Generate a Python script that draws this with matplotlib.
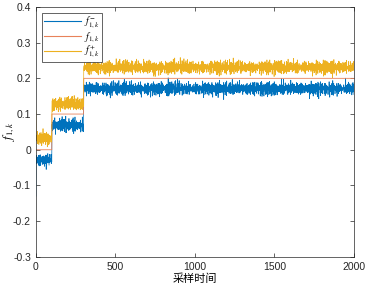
import numpy as np
import matplotlib.pyplot as plt

plt.rcParams['font.family'] = ['Liberation Sans', 'Noto Sans CJK SC']
plt.rcParams['mathtext.fontset'] = 'stix'

# step segments
seg_start = [0, 100, 300]
seg_end = [100, 300, 2000]
ref_level = [0.0, 0.1, 0.2]
low_level = [-0.028, 0.068, 0.171]
up_level = [0.032, 0.128, 0.231]
first_low = -0.13
first_up = 0.11

# hand typed jitter tables (coprime lengths so the pattern doesnt repeat visibly)
jit_a = [0.3, -0.8, 0.5, 0.1, -0.4, 0.9, -0.2, -0.6, 0.7, 0.0, -0.9, 0.4,
         0.2, -0.3, 0.8, -0.7, 0.1, 0.6, -0.5, -0.1, 0.9, -0.8, 0.3, 0.5,
         -0.2, -0.6, 0.0, 0.7, -0.4]
jit_b = [-0.5, 0.2, 0.7, -1.0, 0.1, 0.4, -0.3, 0.8, -0.6, -0.1, 0.5, 0.0,
         -0.7, 0.9, -0.2, 0.3, -0.8, 0.6, 0.1, -0.4, 0.2, -0.9, 0.7, -0.1,
         0.4, -0.5, 1.0, -0.3, 0.0, 0.6, -0.7]
jit_c = [0.0, 0.2, -0.1, 0.0, 0.9, -0.2, 0.1, 0.0, -1.0, 0.1, -0.1, 0.3,
         0.0, -0.2, 0.1, 0.0, 0.8, -0.1, 0.2, -0.9, 0.0, 0.1, -0.3]
jit_amp = 0.026

k = np.arange(0, 2001)
ref = np.zeros(len(k))
low = np.zeros(len(k))
up = np.zeros(len(k))
for s, e, r, lo, hi in zip(seg_start, seg_end, ref_level, low_level, up_level):
    m = (k >= s) & (k <= e) if s == 0 else (k > s) & (k <= e)
    ref[m] = r
    low[m] = lo
    up[m] = hi

ja = np.array(jit_a)
jb = np.array(jit_b)
jc = np.array(jit_c)
noise_low = (ja[k % len(ja)] + jb[k % len(jb)] + jc[k % len(jc)]) / 2.4 * jit_amp
noise_up = (ja[(k + 11) % len(ja)] - jb[(k + 7) % len(jb)] + jc[(k + 5) % len(jc)]) / 2.4 * jit_amp
low = low + noise_low
up = up + noise_up
low[0] = first_low
up[0] = first_up

fig = plt.figure(figsize=(3.66, 2.88), dpi=100)
ax = fig.add_axes([0.098, 0.108, 0.869, 0.868])

ax.plot(k, low, color='#0072BD', lw=0.5, label=r'$f_{1,k}^{-}$')
ax.plot(k, ref, color='#E8825A', lw=0.6, label=r'$f_{1,k}$')
ax.plot(k, up, color='#EDB120', lw=0.5, label=r'$f_{1,k}^{+}$')

ax.set_xlim(0, 2000)
ax.set_ylim(-0.3, 0.4)
ax.set_xticks([0, 500, 1000, 1500, 2000])
ax.set_yticks(np.arange(-0.3, 0.41, 0.1))
ax.set_yticklabels(['-0.3', '-0.2', '-0.1', '0', '0.1', '0.2', '0.3', '0.4'])
ax.tick_params(direction='in', top=True, right=True, labelsize=7.5, length=3,
               width=0.5, colors='#262626')
for sp in ax.spines.values():
    sp.set_linewidth(0.5)
    sp.set_color('#262626')

ax.set_xlabel('采样时间', fontsize=8, family=['Noto Sans CJK SC'], labelpad=1)
ax.set_ylabel(r'$f_{1,k}$', fontsize=9)
ax.yaxis.set_label_coords(-0.058, 0.5)

leg = ax.legend(loc='upper left', fontsize=7.2, fancybox=False, edgecolor='#262626',
                handlelength=3.7, borderpad=0.2, labelspacing=0.0,
                handletextpad=0.3, borderaxespad=0.6, framealpha=1)
leg.get_frame().set_linewidth(0.5)
for h in leg.legend_handles:
    h.set_linewidth(0.8)

fig.savefig('out.png', dpi=100)
